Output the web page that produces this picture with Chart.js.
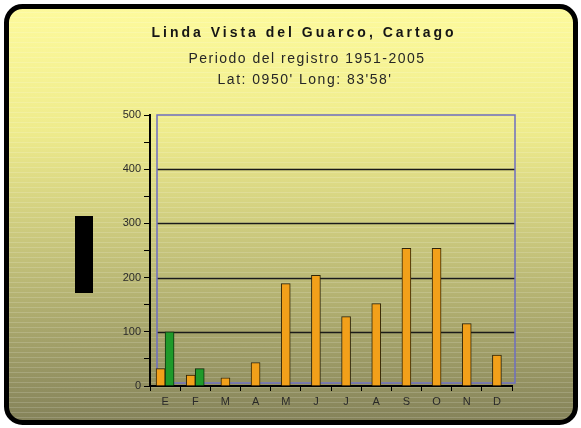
<!DOCTYPE html>
<html>
<head>
<meta charset="utf-8">
<script src="https://cdn.jsdelivr.net/npm/chart.js@4"></script>
<style>
    html, body { margin: 0; padding: 0; background: #ffffff; }
    #wrap { width: 581px; height: 428px; }
</style>
</head>
<body>
<div id="wrap"><canvas id="rainChart" width="581" height="428"></canvas></div>
<script>
// Chart data
const months = ['E', 'F', 'M', 'A', 'M', 'J', 'J', 'A', 'S', 'O', 'N', 'D'];
const seriesOrange = [32, 20, 15, 43, 189, 204, 128, 152, 254, 254, 115, 57];
const seriesGreen = [100, 32, null, null, null, null, null, null, null, null, null, null];
const yTicks = [0, 100, 200, 300, 400, 500];

const titleLines = [
    'Linda Vista del Guarco, Cartago',
    'Periodo del registro 1951-2005',
    "Lat: 0950' Long: 83'58'"
];

// Rounded panel, gradient and stripes
const panelPlugin = {
    id: 'panel',
    beforeDraw(chart) {
        const ctx = chart.ctx;
        const w = chart.width, h = chart.height;
        ctx.save();
        ctx.fillStyle = '#ffffff';
        ctx.fillRect(0, 0, w, h);

        ctx.beginPath();
        ctx.roundRect(6.5, 6.5, w - 12, h - 12, 16);
        const grad = ctx.createLinearGradient(0, 8, 0, h - 8);
        grad.addColorStop(0, '#fdfa9c');
        grad.addColorStop(0.3, '#eeeb8c');
        grad.addColorStop(0.6, '#c4c27a');
        grad.addColorStop(1, '#85835a');
        ctx.fillStyle = grad;
        ctx.fill();

        ctx.clip();
        ctx.strokeStyle = 'rgba(255,255,255,0.16)';
        ctx.lineWidth = 1;
        for (let y = 12; y < h; y += 5) {
            ctx.beginPath();
            ctx.moveTo(0, y + 0.5);
            ctx.lineTo(w, y + 0.5);
            ctx.stroke();
        }
        ctx.restore();

        ctx.save();
        ctx.beginPath();
        ctx.roundRect(6.5, 6.5, w - 12, h - 12, 16);
        ctx.lineWidth = 5;
        ctx.strokeStyle = '#000000';
        ctx.stroke();

        // broken axis title box
        ctx.fillStyle = '#000000';
        ctx.fillRect(75, 216, 18, 77);

        // titles
        ctx.fillStyle = '#151515';
        ctx.textAlign = 'center';
        ctx.textBaseline = 'middle';
        ctx.letterSpacing = '3px';
        ctx.font = 'bold 14px "Liberation Sans", Arial, sans-serif';
        ctx.fillText(titleLines[0], 304, 33);
        ctx.letterSpacing = '1.5px';
        ctx.fillStyle = '#262626';
        ctx.font = '14px "Liberation Sans", Arial, sans-serif';
        ctx.fillText(titleLines[1], 307, 59);
        ctx.fillText(titleLines[2], 305, 80);
        ctx.restore();
    }
};

// Back wall: blue frame and horizontal grid lines
const wallPlugin = {
    id: 'wall',
    beforeDatasetsDraw(chart) {
        const ctx = chart.ctx;
        const area = chart.chartArea;
        const y = chart.scales.y;
        const dx = 7;
        ctx.save();
        ctx.strokeStyle = '#1a1a1a';
        ctx.lineWidth = 1.5;
        yTicks.slice(1, -1).forEach(v => {
            const py = Math.round(y.getPixelForValue(v)) + 0.5;
            ctx.beginPath();
            ctx.moveTo(area.left + dx, py);
            ctx.lineTo(area.right + 3, py);
            ctx.stroke();
        });
        ctx.strokeStyle = '#6e6ec0';
        ctx.lineWidth = 1.5;
        ctx.strokeRect(area.left + dx, y.getPixelForValue(500), area.right + 3 - area.left - dx, area.bottom - 3 - y.getPixelForValue(500));
        ctx.restore();
    }
};

const ctx = document.getElementById('rainChart').getContext('2d');
const chart = new Chart(ctx, {
    type: 'bar',
    data: {
        labels: months,
        datasets: [
            {
                label: 'Serie 1',
                data: seriesOrange,
                backgroundColor: '#f2a01a',
                borderColor: '#2e2408',
                borderWidth: 1,
                barThickness: 9,
                skipNull: true
            },
            {
                label: 'Serie 2',
                data: seriesGreen,
                backgroundColor: '#1f9a2a',
                borderColor: '#12300e',
                borderWidth: 1,
                barThickness: 9,
                skipNull: true
            }
        ]
    },
    options: {
        responsive: false,
        animation: false,
        layout: {
            padding: { left: 110, right: 69, top: 115, bottom: 17 }
        },
        plugins: {
            legend: { display: false },
            title: { display: false },
            tooltip: { enabled: false }
        },
        scales: {
            x: {
                afterFit: s => { s.height = 25; },
                border: { color: '#000000', width: 2 },
                grid: {
                    offset: true,
                    drawOnChartArea: false,
                    tickLength: 5,
                    tickColor: '#000000'
                },
                ticks: {
                    color: '#2a2a2a',
                    padding: 4,
                    font: { size: 11, family: '"Liberation Sans", Arial, sans-serif' }
                }
            },
            y: {
                min: 0,
                max: 500,
                afterFit: s => { s.width = 40; },
                border: { color: '#000000', width: 2 },
                grid: {
                    drawOnChartArea: false,
                    tickLength: 6,
                    tickColor: '#000000'
                },
                ticks: {
                    stepSize: 50,
                    color: '#2a2a2a',
                    padding: 3,
                    font: { size: 11, family: '"Liberation Sans", Arial, sans-serif' },
                    callback: v => (yTicks.includes(v) ? v : '')
                }
            }
        }
    },
    plugins: [panelPlugin, wallPlugin]
});
</script>
</body>
</html>
